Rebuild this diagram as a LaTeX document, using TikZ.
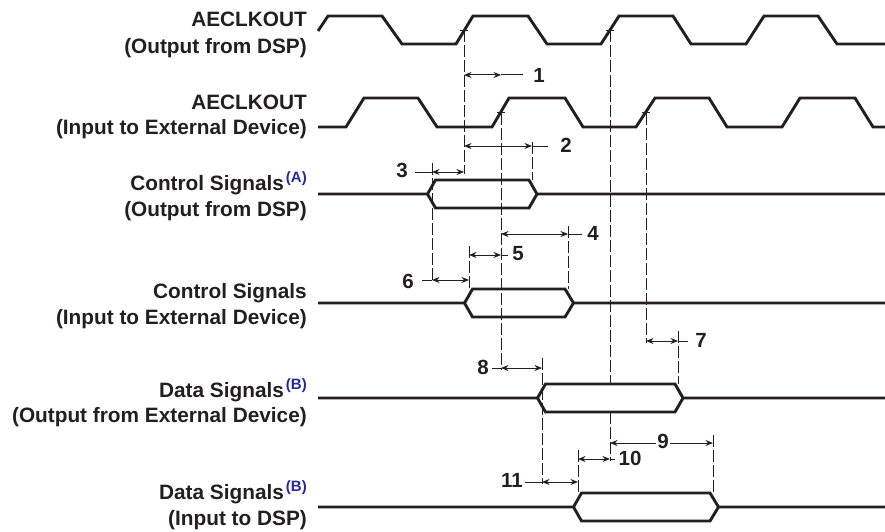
\documentclass[tikz,border=0pt]{standalone}
\usepackage{fontspec}
\setmainfont{Liberation Sans}
\usetikzlibrary{arrows.meta}
\definecolor{ink}{RGB}{35,31,32}
\definecolor{noteblue}{RGB}{40,40,150}
\newcommand\notemark[1]{\kern2pt\textcolor{noteblue}{\raisebox{8pt}{\fontsize{15}{15}\selectfont #1}}}
\newcommand\hexsig[5]{%
  \draw[wave] (318,#1) -- (#2,#1) -- (#3,#1-14) -- (#4,#1-14) -- (#5,#1) -- (885,#1);
  \draw[wave] (#2,#1) -- (#3,#1+14) -- (#4,#1+14) -- (#5,#1);}
\begin{document}
\begin{tikzpicture}[x=1pt,y=-1pt,
  wave/.style={line width=2.9pt,draw=ink},
  guide/.style={line width=0.9pt,draw=ink,dash pattern=on 12pt off 3pt},
  dimarrow/.style={line width=1pt,draw=ink,{Stealth[length=7.5pt,width=6pt]}-{Stealth[length=7.5pt,width=6pt]}},
  dimline/.style={line width=1pt,draw=ink},
  tick/.style={line width=0.7pt,draw=ink},
  lbl/.style={anchor=base east,inner sep=0pt,text=ink,font=\fontsize{20.8}{26}\selectfont\bfseries},
  num/.style={inner sep=0pt,text=ink,font=\fontsize{20.5}{20}\selectfont\bfseries}]
\useasboundingbox (0,0) rectangle (885,532);

% ---------- labels ----------
\node[lbl] (l1a) at (307,27) {AECLKOUT};
\node[lbl] (l1b) at (307,54) {(Output from DSP)};
\node[lbl] (l2a) at (307,110) {AECLKOUT};
\node[lbl] (l2b) at (307,135) {(Input to External Device)};
\node[lbl] (l3a) at (307,190) {Control Signals\notemark{(A)}};
\node[lbl] (l3b) at (307,216) {(Output from DSP)};
\node[lbl] (l4a) at (307,298) {Control Signals};
\node[lbl] (l4b) at (307,324) {(Input to External Device)};
\node[lbl] (l5a) at (307,397) {Data Signals\notemark{(B)}};
\node[lbl] (l5b) at (307,422) {(Output from External Device)};
\node[lbl] (l6a) at (307,499) {Data Signals\notemark{(B)}};
\node[lbl] (l6b) at (307,525) {(Input to DSP)};

% ---------- clock edge reference points ----------
\coordinate (cA) at (464,30);
\coordinate (cC) at (610,30);
\coordinate (cB) at (501,112.5);
\coordinate (cD) at (646,112.5);

% ---------- guide (dashed) lines ----------
\coordinate (gA) at (464,174);
\coordinate (gB) at (501,370);
\coordinate (gC1) at (610,384);
\coordinate (gC2) at (610,412);
\coordinate (gC3) at (610,461);
\coordinate (gD) at (646,343);
\coordinate (g3t) at (432,163);  \coordinate (g3b) at (432,283);
\coordinate (g2t) at (532,142);  \coordinate (g2b) at (532,180);
\coordinate (g4t) at (568,226);  \coordinate (g4b) at (568,289);
\coordinate (g6t) at (469,246);  \coordinate (g6b) at (469,289);
\coordinate (g8t) at (542,358);  \coordinate (g8b) at (542,484);
\coordinate (g7t) at (678,331);  \coordinate (g7b) at (678,384);
\coordinate (g9t) at (713,435);  \coordinate (g9b) at (713,493);
\coordinate (g11t) at (578,450); \coordinate (g11b) at (578,493);

\draw[guide] (cA) -- (gA);
\draw[guide] (cB) -- (gB);
\draw[guide] (cC) -- (gC1);
\draw[guide] (gC2) -- (gC3);
\draw[guide] (cD) -- (gD);
\draw[guide] (g3t) -- (g3b);
\draw[guide] (g2t) -- (g2b);
\draw[guide] (g4t) -- (g4b);
\draw[guide] (g6t) -- (g6b);
\draw[guide] (g8t) -- (g8b);
\draw[guide] (g7t) -- (g7b);
\draw[guide] (g9t) -- (g9b);
\draw[guide] (g11t) -- (g11b);

% ---------- waveforms ----------
\draw[wave] (318,31) -- (328,16) -- (382,16) -- (402,44) -- (456,44) -- (473,16)
  -- (528,16) -- (547,44) -- (601,44) -- (619,16) -- (673,16) -- (691,44)
  -- (746,44) -- (764,16) -- (818,16) -- (837,44) -- (885,44);
\draw[wave] (318,127) -- (346,127) -- (364,98) -- (418,98) -- (437,127) -- (492,127)
  -- (509,98) -- (565,98) -- (583,127) -- (636,127) -- (655,98) -- (709,98)
  -- (727,127) -- (782,127) -- (800,98) -- (855,98) -- (873,127) -- (885,127);
\hexsig{194}{427.5}{435.5}{529}{537}
\hexsig{303}{464.5}{472.5}{565}{573.5}
\hexsig{398}{537.5}{545.5}{675}{683}
\hexsig{507}{573.5}{581.5}{710}{718.5}

% small ticks at clock edges
\foreach \c in {cA,cB,cC,cD}
  \draw[tick] ([xshift=-4pt]\c) -- ([xshift=4pt]\c);

% ---------- timing dimensions ----------
% 1
\coordinate (d1L) at (464,75); \coordinate (d1R) at (501,75); \coordinate (d1X) at (523,75);
\draw[dimarrow] (d1L) -- (d1R); \draw[dimline] (d1R) -- (d1X);
\node[num] (n1) at (539,75) {1};
% 2
\coordinate (d2L) at (464,146); \coordinate (d2R) at (532,146); \coordinate (d2X) at (548,146);
\draw[dimarrow] (d2L) -- (d2R); \draw[dimline] (d2R) -- (d2X);
\node[num] (n2) at (566,145) {2};
% 3
\coordinate (d3L) at (432,172); \coordinate (d3R) at (464,172); \coordinate (d3X) at (415,172);
\draw[dimarrow] (d3L) -- (d3R); \draw[dimline] (d3X) -- (d3L);
\node[num] (n3) at (402,170) {3};
% 4
\coordinate (d4L) at (501,234); \coordinate (d4R) at (568,234); \coordinate (d4X) at (582,234);
\draw[dimarrow] (d4L) -- (d4R); \draw[dimline] (d4R) -- (d4X);
\node[num] (n4) at (593,233) {4};
% 5
\coordinate (d5L) at (469,255); \coordinate (d5R) at (501,255); \coordinate (d5X) at (508,255);
\draw[dimarrow] (d5L) -- (d5R); \draw[dimline] (d5R) -- (d5X);
\node[num] (n5) at (518,254) {5};
% 6
\coordinate (d6L) at (432,280); \coordinate (d6R) at (469,280); \coordinate (d6X) at (422,280);
\draw[dimarrow] (d6L) -- (d6R); \draw[dimline] (d6X) -- (d6L);
\node[num] (n6) at (408,281) {6};
% 7
\coordinate (d7L) at (646,341); \coordinate (d7R) at (678,341); \coordinate (d7X) at (688,341);
\draw[dimarrow] (d7L) -- (d7R); \draw[dimline] (d7R) -- (d7X);
\node[num] (n7) at (701,340) {7};
% 8
\coordinate (d8L) at (501,368); \coordinate (d8R) at (542,368); \coordinate (d8X) at (492,368);
\draw[dimarrow] (d8L) -- (d8R); \draw[dimline] (d8X) -- (d8L);
\node[num] (n8) at (483,367) {8};
% 9
\coordinate (d9L) at (610,443); \coordinate (d9R) at (713,443);
\draw[dimarrow] (d9L) -- (d9R);
\node[num,fill=white,inner sep=1pt] (n9) at (663,441) {9};
% 10
\coordinate (d10L) at (578,459); \coordinate (d10R) at (610,459); \coordinate (d10X) at (615,459);
\draw[dimarrow] (d10L) -- (d10R); \draw[dimline] (d10R) -- (d10X);
\node[num] (n10) at (630,458) {10};
% 11
\coordinate (d11L) at (542,482); \coordinate (d11R) at (578,482); \coordinate (d11X) at (525,482);
\draw[dimarrow] (d11L) -- (d11R); \draw[dimline] (d11X) -- (d11L);
\node[num] (n11) at (512,480) {11};
\end{tikzpicture}
\end{document}
